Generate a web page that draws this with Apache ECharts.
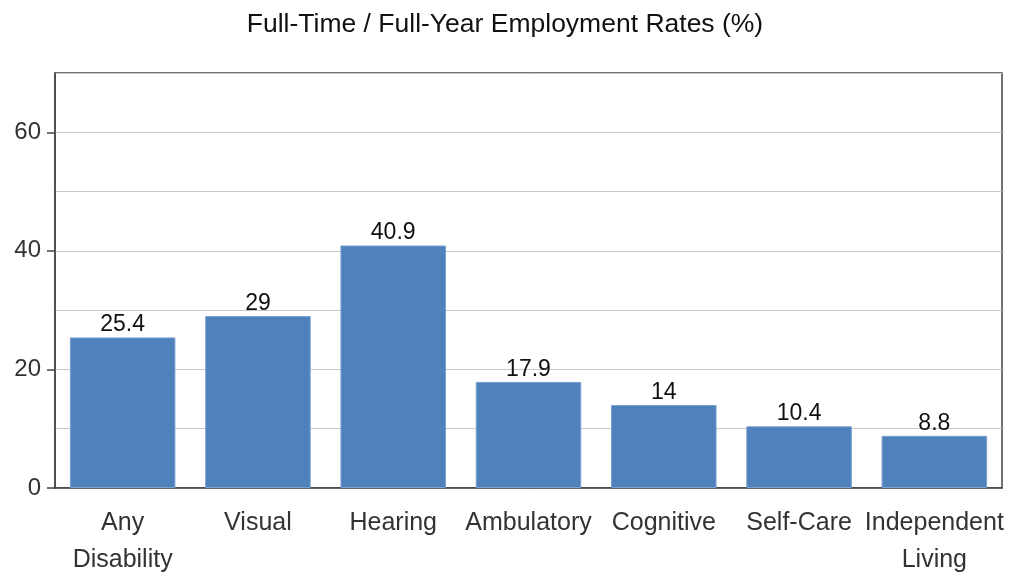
<!DOCTYPE html>
<html>
<head>
<meta charset="utf-8">
<script src="https://cdn.jsdelivr.net/npm/echarts@6/dist/echarts.min.js"></script>
<style>
  html, body { margin: 0; padding: 0; background: #fff; }
  #main { width: 1010px; height: 573px; }
</style>
</head>
<body>
<div id="main"></div>
<script>
// data
var categories = ['Any\nDisability', 'Visual', 'Hearing', 'Ambulatory', 'Cognitive', 'Self-Care', 'Independent\nLiving'];
var rates = [25.4, 29, 40.9, 17.9, 14, 10.4, 8.8];
var yTickLabels = [0, 20, 40, 60];

var chart = echarts.init(document.getElementById('main'));

var option = {
  animation: false,
  textStyle: { fontFamily: 'Liberation Sans, Arial, sans-serif' },
  title: {
    text: 'Full-Time / Full-Year Employment Rates (%)',
    left: 'center',
    top: 6,
    textStyle: { fontSize: 26.5, fontWeight: 'normal', color: '#111' }
  },
  grid: {
    left: 55, right: 8, top: 73, bottom: 85,
    outerBoundsMode: 'none',
    show: true,
    borderColor: '#444',
    borderWidth: 1.5
  },
  xAxis: {
    type: 'category',
    data: categories,
    axisLine: { lineStyle: { color: '#444', width: 1.5 } },
    axisTick: { alignWithLabel: true, length: 8, lineStyle: { color: '#444', width: 1.5 } },
    axisLabel: { color: '#333', fontSize: 25, lineHeight: 37, margin: 17, interval: 0 }
  },
  yAxis: [{
    type: 'value',
    min: 0,
    max: 70,
    interval: 10,
    axisLine: { show: true, lineStyle: { color: '#444', width: 1.5 } },
    axisTick: { show: true, length: 8, customValues: yTickLabels, lineStyle: { color: '#444', width: 1.5 } },
    axisLabel: { color: '#333', fontSize: 24, margin: 14, customValues: yTickLabels },
    splitLine: { show: false }
  }, {
    // grid lines every 10
    type: 'value',
    position: 'left',
    min: 0,
    max: 70,
    interval: 10,
    axisLine: { show: false },
    axisTick: { show: false },
    axisLabel: { show: false },
    splitLine: { show: true, lineStyle: { color: '#c8c8c8', width: 1 } }
  }],
  series: [{
    type: 'bar',
    data: rates,
    barCategoryGap: '22%',
    itemStyle: { color: '#4f81bd', borderColor: '#7aa0d0', borderWidth: 1 },
    label: {
      show: true,
      position: 'top',
      distance: 1,
      color: '#111',
      fontSize: 23
    }
  }]
};

chart.setOption(option);
</script>
</body>
</html>
